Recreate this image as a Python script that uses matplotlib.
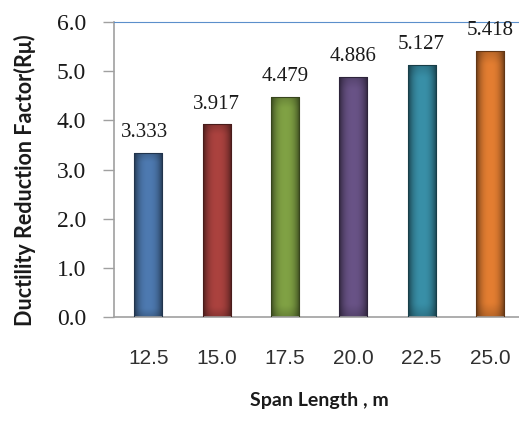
import matplotlib
matplotlib.use("Agg")
import matplotlib.pyplot as plt
import matplotlib.colors as mcolors
import numpy as np

# data
spans = ["12.5", "15.0", "17.5", "20.0", "22.5", "25.0"]
r_mu = [3.333, 3.917, 4.479, 4.886, 5.127, 5.418]
bar_colors = ["#4A74A8", "#A33F3C", "#7A9A41", "#644F80", "#3689A0", "#D9782F"]
yticks = [0, 1, 2, 3, 4, 5, 6]

fig = plt.figure(figsize=(5.19, 4.21), dpi=100)
ax = fig.add_axes([0.2197, 0.247, 0.79, 0.7007])

x = np.arange(len(spans))
bars = ax.bar(x, r_mu, width=0.41, color="none", edgecolor="none")

# cylinder-like shading: darker at the edges, lighter in the middle
gx = np.linspace(-1, 1, 64)
gy = np.linspace(-1, 1, 128)
for b, c in zip(bars, bar_colors):
    base = np.array(mcolors.to_rgb(c))
    shade = 1 - 0.75 * np.abs(gx[None, :]) ** 2.5
    shade = shade * (1 - 0.25 * np.clip((np.abs(gy[:, None]) - 0.9) / 0.1, 0, 1))
    img = np.clip(base[None, None, :] * (0.3 + 0.75 * shade[:, :, None]), 0, 1)
    x0, y0 = b.get_x(), b.get_y()
    w, h = b.get_width(), b.get_height()
    im = ax.imshow(img, extent=[x0, x0 + w, y0, y0 + h], aspect="auto",
                   interpolation="bicubic", zorder=2)
    im.set_clip_path(b)
    ax.add_patch(plt.Rectangle((x0, y0), w, h, fill=False,
                               edgecolor=base * 0.45, linewidth=0.8, zorder=3))

for xi, v in zip(x, r_mu):
    ax.text(xi - 0.05 if xi == 0 else xi, v + 0.22, "%.3f" % v, ha="center", va="bottom",
            fontsize=15, family="Liberation Serif", color="#1a1a1a")

ax.set_xlim(-0.5, len(spans) - 0.5)
ax.set_ylim(0, 6)
ax.set_yticks(yticks)
ax.set_yticklabels(["%.1f" % t for t in yticks], family="Liberation Serif",
                   fontsize=17, color="#1a1a1a")
ax.set_xticks(x)
ax.set_xticklabels(spans, family="Liberation Sans", fontsize=15, color="#303030")
ax.tick_params(axis="y", direction="out", length=8, width=1, color="#A0A0A0", pad=12)
ax.tick_params(axis="x", length=0, pad=23)

ax.spines["right"].set_visible(False)
ax.spines["left"].set_color("#A0A0A0")
ax.spines["bottom"].set_color("#A0A0A0")
ax.spines["top"].set_color("#5B8FCB")
ax.spines["left"].set_linewidth(1.2)
ax.spines["bottom"].set_linewidth(1.2)

ax.set_ylabel("Ductility Reduction Factor(R\u03bc)", family="Lato", fontweight="bold",
              fontsize=15.5, color="#1a1a1a")
ax.yaxis.set_label_coords(-0.19, 0.465)
ax.set_xlabel("Span Length , m", family="Lato", fontweight="bold", fontsize=14,
              color="#1a1a1a", labelpad=17)

fig.savefig("out.png", dpi=100)
